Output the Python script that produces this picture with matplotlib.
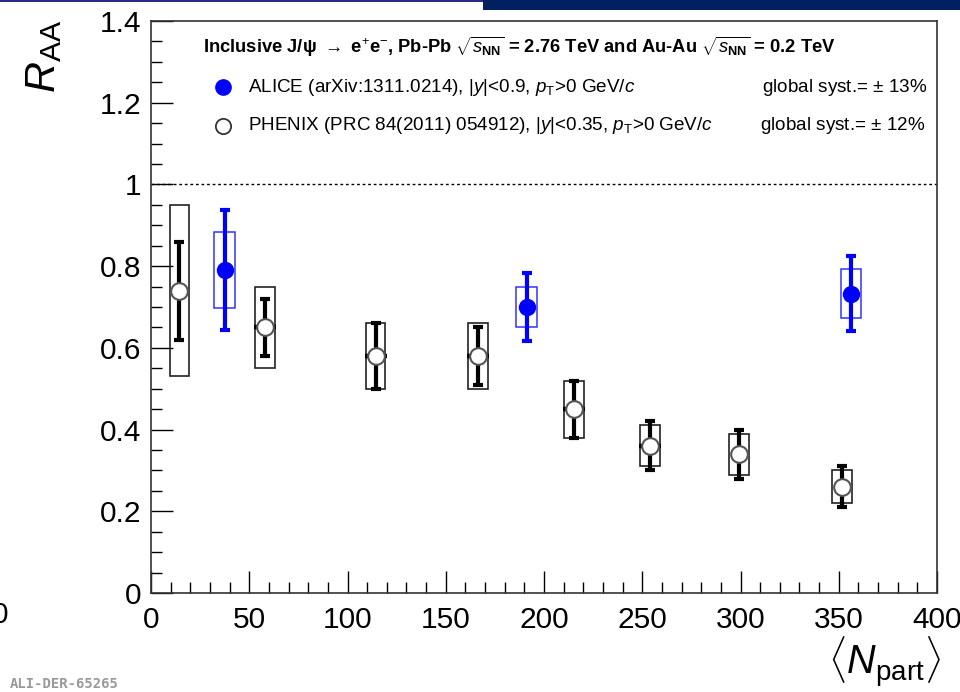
import matplotlib
matplotlib.use("Agg")
import matplotlib.pyplot as plt
from matplotlib.patches import Rectangle

plt.rcParams['font.family'] = ['Liberation Sans', 'DejaVu Sans']
plt.rcParams['mathtext.fontset'] = 'custom'
plt.rcParams['mathtext.rm'] = 'Liberation Sans'
plt.rcParams['mathtext.it'] = 'Liberation Sans:italic'
plt.rcParams['mathtext.bf'] = 'Liberation Sans:bold'

# ---------------- data ----------------
phenix_npart = [14.5, 58, 114.3, 166.5, 215.3, 254, 299.2, 351.8]
phenix_raa = [0.74, 0.65, 0.58, 0.58, 0.45, 0.36, 0.34, 0.26]
phenix_stat = [0.12, 0.07, 0.08, 0.07, 0.07, 0.06, 0.06, 0.05]
phenix_syst = [0.21, 0.10, 0.08, 0.08, 0.07, 0.05, 0.05, 0.04]
phenix_xerr = [0, 5.6, 5.6, 5.6, 5.6, 5.6, 0, 0]

alice_npart = [37.5, 191.3, 356.2]
alice_raa = [0.79, 0.70, 0.733]
alice_stat = [0.147, 0.084, 0.092]
alice_syst = [0.093, 0.05, 0.059]

xticks = [0, 50, 100, 150, 200, 250, 300, 350, 400]
yticks = [0, 0.2, 0.4, 0.6, 0.8, 1, 1.2, 1.4]
ytick_labels = ['0', '0.2', '0.4', '0.6', '0.8', '1', '1.2', '1.4']

W, H = 960, 692
fig = plt.figure(figsize=(W / 100, H / 100), dpi=100)


def fx(x):
    return x / W


def fy(y):
    return 1 - y / H


ax = fig.add_axes([fx(151), fy(593), fx(937) - fx(151), fy(21) - fy(593)])
ax.set_xlim(0, 400)
ax.set_ylim(0, 1.4)

BOXW = 10.0

# dotted line at unity
ax.axhline(1.0, color='black', lw=1.0, ls=(0, (2, 2)), zorder=1)

# systematic boxes
for x, y, s in zip(phenix_npart, phenix_raa, phenix_syst):
    ax.add_patch(Rectangle((x - BOXW / 2, y - s), BOXW, 2 * s, fill=False,
                           edgecolor='#222222', lw=1.2, zorder=2))
for x, y, s in zip(alice_npart, alice_raa, alice_syst):
    ax.add_patch(Rectangle((x - BOXW / 2 - 0.3, y - s), BOXW + 0.6, 2 * s, fill=False,
                           edgecolor='#3333ff', lw=1.1, zorder=2))

# statistical errors
ax.errorbar(phenix_npart, phenix_raa, yerr=phenix_stat, fmt='none', ecolor='black',
            elinewidth=3.0, capsize=3.5, capthick=3.0, zorder=3)
ax.errorbar(phenix_npart, phenix_raa, xerr=phenix_xerr, fmt='none', ecolor='black',
            elinewidth=3.2, capsize=0, zorder=3)
ax.errorbar(alice_npart, alice_raa, yerr=alice_stat, fmt='none', ecolor='#0000ff',
            elinewidth=3.0, capsize=3.5, capthick=3.0, zorder=3)

# markers
ax.plot(phenix_npart, phenix_raa, 'o', ms=12, mfc='white', mec='#555555', mew=1.5,
        ls='none', zorder=4)
ax.plot(alice_npart, alice_raa, 'o', ms=11.5, mfc='#0000ff', mec='#0000ff', mew=1,
        ls='none', zorder=4)

# ticks (ROOT-like inside ticks)
ax.set_xticks(xticks)
ax.set_xticks(range(0, 401, 10), minor=True)
ax.set_yticks(yticks)
ax.set_yticklabels(ytick_labels)
ax.set_yticks([i * 0.05 for i in range(29)], minor=True)
ax.tick_params(which='both', direction='in', top=False, right=False, color='black')
ax.tick_params(which='major', length=16, width=1.0, labelsize=21.5)
ax.tick_params(axis='x', which='major', pad=9)
ax.tick_params(axis='y', which='major', pad=7)
ax.tick_params(which='minor', length=8, width=1.0)
for sp in ax.spines.values():
    sp.set_linewidth(1.2)
    sp.set_color('#333333')

# axis titles
fig.text(fx(941), fy(662), r'$\langle N_{\mathrm{part}}\rangle$', fontsize=28.5,
         ha='right', va='center')
fig.text(fx(44), fy(20), r'$R_{\mathrm{AA}}$', fontsize=31, rotation=90,
         ha='center', va='top')

# legend
fig.text(fx(203), fy(47),
         r'Inclusive J/ψ $\rightarrow$ e$^{+}$e$^{-}$, Pb-Pb $\sqrt{s_{\mathbf{NN}}}$ = 2.76 TeV and Au-Au $\sqrt{s_{\mathbf{NN}}}$ = 0.2 TeV',
         fontsize=13.2, fontweight='bold', ha='left', va='center')
fig.add_artist(plt.Line2D([fx(223)], [fy(87)], marker='o', ms=11, mfc='#0000ff',
                          mec='#0000ff', ls='none'))
fig.add_artist(plt.Line2D([fx(223)], [fy(126)], marker='o', ms=11, mfc='white',
                          mec='#333333', mew=1.3, ls='none'))
fig.text(fx(248), fy(87), r'ALICE (arXiv:1311.0214), |$y$|<0.9, $p_{\mathrm{T}}$>0 GeV/$c$',
         fontsize=13.6, ha='left', va='center')
fig.text(fx(248), fy(125), r'PHENIX (PRC 84(2011) 054912), |$y$|<0.35, $p_{\mathrm{T}}$>0 GeV/$c$',
         fontsize=13.6, ha='left', va='center')
fig.text(fx(927), fy(87), r'global syst.= $\pm$ 13%', fontsize=13.6, ha='right', va='center')
fig.text(fx(925), fy(125), r'global syst.= $\pm$ 12%', fontsize=13.6, ha='right', va='center')

# decorations outside the plot
fig.add_artist(Rectangle((fx(483), fy(10)), 1 - fx(483), fy(0) - fy(10),
                         transform=fig.transFigure, facecolor='#002060', edgecolor='none'))
fig.add_artist(Rectangle((0, fy(1.5)), fx(483), fy(0) - fy(1.5),
                         transform=fig.transFigure, facecolor='#2a2a8a', edgecolor='none'))
fig.text(fx(-8), fy(615), '0', fontsize=21.5, ha='left', va='center')
fig.text(fx(10), fy(684), 'ALI-DER-65265', fontsize=10, family='DejaVu Sans Mono',
         fontweight='bold', color='#999999', ha='left', va='center')

fig.savefig('out.png', dpi=100)
